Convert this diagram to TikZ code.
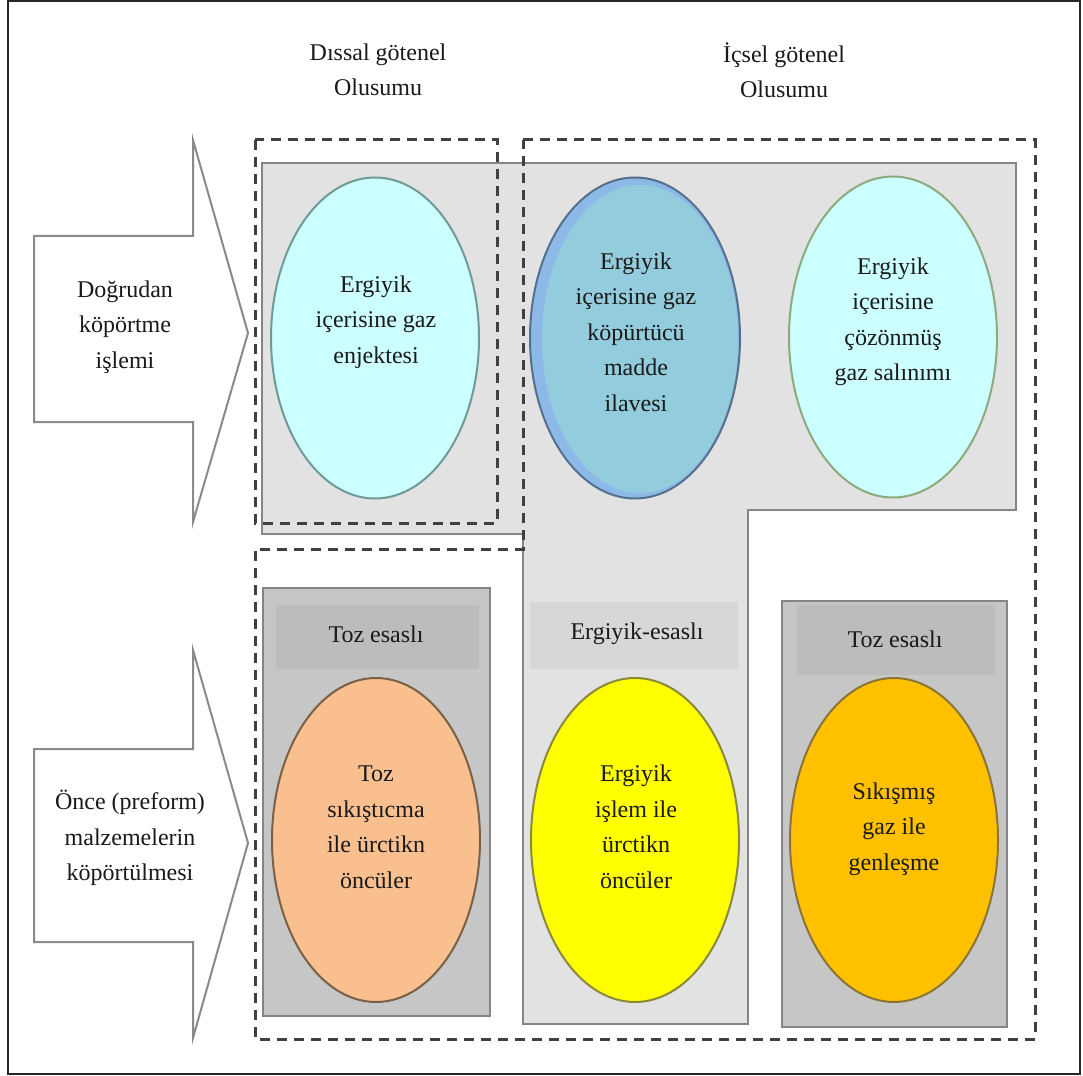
\documentclass[tikz,border=0pt]{standalone}
\usepackage{fontspec}
\setmainfont{Liberation Serif}
\usetikzlibrary{shapes.geometric}
\definecolor{lgray}{HTML}{E2E2E2}
\definecolor{lgrayline}{HTML}{858585}
\definecolor{dboxfill}{HTML}{C6C6C6}
\definecolor{dbandfill}{HTML}{BCBCBC}
\definecolor{mbandfill}{HTML}{D7D7D7}
\definecolor{dashcol}{HTML}{404040}
\definecolor{arrowcol}{HTML}{8A8A8A}
\definecolor{cyanfill}{HTML}{CCFFFF}
\definecolor{cyanline}{HTML}{6E9A98}
\definecolor{cyanline2}{HTML}{8CAA7E}
\definecolor{blueout}{HTML}{8DB9E8}
\definecolor{bluein}{HTML}{93CCDC}
\definecolor{blueline}{HTML}{55708C}
\definecolor{peach}{HTML}{F9BF8F}
\definecolor{peachline}{HTML}{7A6046}
\definecolor{yel}{HTML}{FFFF00}
\definecolor{yelline}{HTML}{8A8A3A}
\definecolor{amber}{HTML}{FFC000}
\definecolor{amberline}{HTML}{8A7438}
\definecolor{txt}{HTML}{1A1A1A}
\tikzset{
  blockarrow/.style={draw=arrowcol, line width=2pt, fill=white, line join=miter},
  dashline/.style={draw=dashcol, line width=3pt, dash pattern=on 10pt off 7pt},
  darkbox/.style={draw=lgrayline, line width=2pt, fill=dboxfill},
  oval/.style={ellipse, line width=2pt, minimum width=208pt, minimum height=321pt, inner sep=0pt},
  lbl/.style={align=center, text=txt, inner sep=0pt},
}
\begin{document}
\begin{tikzpicture}[x=1pt, y=-1pt, font=\fontsize{24}{35.5}\selectfont]
\useasboundingbox (0,0) rectangle (1083,1075);
\fill[white] (0,0) rectangle (1083,1075);
\draw[line width=2pt, black!85] (8,1) rectangle (1080,1074);

% block arrows
\draw[blockarrow] (34,236) -- (193,236) -- (193,140) -- (248,333) -- (193,522) -- (193,422) -- (34,422) -- cycle;
\draw[blockarrow] (34,749) -- (193,749) -- (193,650) -- (248,843) -- (193,1038) -- (193,942) -- (34,942) -- cycle;
\node[lbl] (a1) at (125,327) {Doğrudan\\köpörtme\\işlemi};
\node[lbl] (a2) at (130,838) {Önce (preform)\\malzemelerin\\köpörtülmesi};

% light gray region
\draw[fill=lgray, draw=lgrayline, line width=1.5pt] (262,163) -- (1016,163) -- (1016,510) -- (748,510) -- (748,1024) -- (523,1024) -- (523,534) -- (262,534) -- cycle;

% dark gray boxes and header bands
\draw[darkbox] (263,588) rectangle (490,1016);
\fill[dbandfill] (276,605) rectangle (479,669);
\draw[darkbox] (782,601) rectangle (1007,1027);
\fill[dbandfill] (797,605) rectangle (995,675);
\fill[mbandfill] (530,602) rectangle (738,669);
\node[lbl] (h1) at (376,634) {Toz esaslı};
\node[lbl] (h2) at (637,634) {Ergiyik-esaslı};
\node[lbl] (h3) at (895,639) {Toz esaslı};

% dashed outlines
\draw[dashline] (255,140) rectangle (497,523);
\draw[dashline] (523,140) -- (1035,140) -- (1035,1039) -- (255,1039) -- (255,549) -- (523,549) -- cycle;

% ellipses
\node[oval, draw=cyanline, fill=cyanfill] (e1) at (375,338) {};
\node[oval, draw=blueline, fill=blueout, minimum width=210pt] (e2) at (635,338) {};
\node[ellipse, fill=bluein, minimum width=196pt, minimum height=308pt, inner sep=0pt] (e2in) at (640,339) {};
\node[oval, draw=cyanline2, fill=cyanfill] (e3) at (893,337) {};
\node[oval, draw=peachline, fill=peach, minimum height=324pt] (e4) at (376,840) {};
\node[oval, draw=yelline, fill=yel, minimum height=324pt] (e5) at (635,840) {};
\node[oval, draw=amberline, fill=amber, minimum height=324pt] (e6) at (894,840) {};

\node[lbl] (t1) at (376,322) {Ergiyik\\içerisine gaz\\enjektesi};
\node[lbl] (t2) at (636,332) {Ergiyik\\içerisine gaz\\köpürtücü\\madde\\ilavesi};
\node[lbl] (t3) at (893,322) {Ergiyik\\içerisine\\çözönmüş\\gaz salınımı};
\node[lbl] (t4) at (376,827) {Toz\\sıkıştıcma\\ile ürctikn\\öncüler};
\node[lbl] (t5) at (636,827) {Ergiyik\\işlem ile\\ürctikn\\öncüler};
\node[lbl] (t6) at (894,829) {Sıkışmış\\gaz ile\\genleşme};

% titles
\node[lbl] (ti1) at (378,70) {Dıssal götenel\\Olusumu};
\node[lbl] (ti2) at (784,70) {İçsel götenel\\Olusumu};
\end{tikzpicture}
\end{document}
